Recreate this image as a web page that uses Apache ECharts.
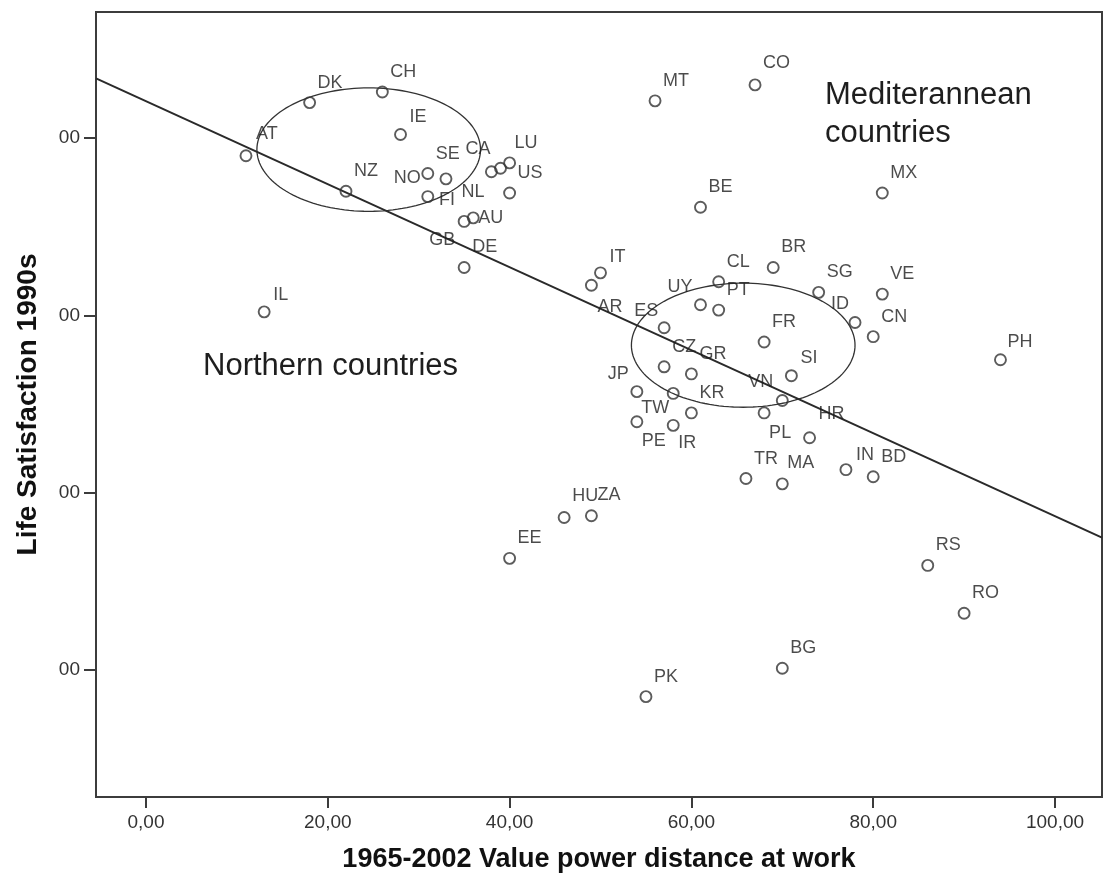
<!DOCTYPE html>
<html>
<head>
<meta charset="utf-8">
<script src="https://cdn.jsdelivr.net/npm/echarts@6.0.0/dist/echarts.min.js"></script>
<style>
html,body{margin:0;padding:0;background:#fff;}
#chart{width:1105px;height:888px;}
</style>
</head>
<body>
<div id="chart"></div>
<script>
// ---------- DATA ----------
const countries = ['AT','DK','CH','IE','NZ','IL','SE','NO','FI','NL','CA','LU','US','AU','GB','DE',
  'MT','CO','BE','MX','BR','CL','IT','AR','UY','PT','SG','VE','ID','CN','ES','FR','CZ','GR','SI',
  'JP','TW','VN','KR','PL','PE','IR','HR','IN','BD','TR','MA','PH','HU','ZA','EE','RS','RO','BG','PK'];
const powerDistance = [11,18,26,28,22,13,31,31,33,38,39,40,40,36,35,35,
  56,67,61,81,69,63,50,49,61,63,74,81,78,80,57,68,57,60,71,
  54,58,70,60,68,54,58,73,77,80,66,70,94,46,49,40,86,90,70,55];
const lifeSatisfaction = [7.90,8.20,8.26,8.02,7.70,7.02,7.80,7.67,7.77,7.81,7.83,7.86,7.69,7.55,7.53,7.27,
  8.21,8.30,7.61,7.69,7.27,7.19,7.24,7.17,7.06,7.03,7.13,7.12,6.96,6.88,6.93,6.85,6.71,6.67,6.66,
  6.57,6.56,6.52,6.45,6.45,6.40,6.38,6.31,6.13,6.09,6.08,6.05,6.75,5.86,5.87,5.63,5.59,5.32,5.01,4.85];
const xTickValues = [0,20,40,60,80,100];
const xTickLabels = ['0,00','20,00','40,00','60,00','80,00','100,00'];
const yTickValues = [5,6,7,8];
const yTickLabels = ['00','00','00','00'];
const fitIntercept = 8.208;
const fitSlope = -0.0234;
// ellipses: [centre x, centre y, radius x, radius y] in data units
const ellipseNorthern = [24.5, 7.935, 12.3, 0.348];
const ellipseMediterranean = [65.7, 6.832, 12.3, 0.350];
const annotationMed = 'Mediterannean\ncountries';
const annotationNorth = 'Northern countries';
const xTitle = '1965-2002 Value power distance at work';
const yTitle = 'Life Satisfaction 1990s';

// ---------- STYLE ----------
const X_MIN = -5.5, X_MAX = 105.17, Y_MIN = 4.284, Y_MAX = 8.711;
const FONT = 'Liberation Sans, Arial, sans-serif';
const INK = '#3c3c3c';
const defaultLabelOffset = [8, -20];
const labelOffsets = {
  AT:[10,-22], IE:[9,-17], IL:[9,-17], IT:[9,-16], HR:[9,-24], IN:[10,-15], CO:[8,-22],
  MA:[5,-21], ZA:[6,-21], HU:[8,-22], AR:[6,22], NO:[-34,-19], FI:[-7,21], NL:[-30,20],
  CA:[-35,-19], AU:[5,0], GB:[-35,19], UY:[-33,-18], ID:[-24,-18], ES:[-30,-17], JP:[-29,-18],
  TW:[-32,15], VN:[-34,-18], PL:[5,20], PE:[5,19], IR:[5,18], SI:[9,-18], PH:[7,-18], LU:[5,-20]
};

const points = countries.map((c, i) => ({
  name: c,
  value: [powerDistance[i], lifeSatisfaction[i]],
  label: { offset: labelOffsets[c] || defaultLabelOffset }
}));
const fitLine = [X_MIN, X_MAX].map(x => [x, fitIntercept + fitSlope * x]);

const chart = echarts.init(document.getElementById('chart'), null, {renderer: 'canvas'});
chart.setOption({
  animation: false,
  backgroundColor: '#fff',
  grid: {
    left: 96, right: 3, top: 12, bottom: 91,
    show: true, borderColor: INK, borderWidth: 2,
    containLabel: false, outerBoundsMode: 'none'
  },
  xAxis: {
    type: 'value', min: X_MIN, max: X_MAX,
    name: xTitle, nameLocation: 'middle', nameGap: 49,
    nameTextStyle: {fontSize: 27, fontWeight: 'bold', color: '#111', fontFamily: FONT},
    axisLine: {show: true, onZero: false, lineStyle: {color: INK, width: 2}},
    axisTick: {show: true, customValues: xTickValues, length: 11, lineStyle: {color: INK, width: 2}},
    axisLabel: {
      customValues: xTickValues, margin: 16, fontSize: 19, color: '#333', fontFamily: FONT,
      formatter: v => { const k = xTickValues.indexOf(v); return k >= 0 ? xTickLabels[k] : ''; }
    },
    splitLine: {show: false}
  },
  yAxis: {
    type: 'value', min: Y_MIN, max: Y_MAX,
    name: yTitle, nameLocation: 'middle', nameGap: 54,
    nameTextStyle: {fontSize: 28, fontWeight: 'bold', color: '#111', fontFamily: FONT},
    axisLine: {show: true, onZero: false, lineStyle: {color: INK, width: 2}},
    axisTick: {show: true, customValues: yTickValues, length: 12, lineStyle: {color: INK, width: 2}},
    axisLabel: {
      customValues: yTickValues, margin: 16, fontSize: 19, color: '#333', fontFamily: FONT,
      formatter: v => { const k = yTickValues.indexOf(v); return k >= 0 ? yTickLabels[k] : ''; }
    },
    splitLine: {show: false}
  },
  graphic: [
    {type: 'text', left: 825, top: 76, silent: true,
     style: {text: annotationMed, font: '31px ' + FONT, lineHeight: 38, fill: '#1e1e1e'}},
    {type: 'text', left: 203, top: 347, silent: true,
     style: {text: annotationNorth, font: '31px ' + FONT, lineHeight: 38, fill: '#1e1e1e'}}
  ],
  series: [
    {
      type: 'custom', coordinateSystem: 'cartesian2d', silent: true, z: 1,
      data: [ellipseNorthern, ellipseMediterranean],
      encode: {x: 0, y: 1},
      renderItem: (params, api) => {
        const cx = api.value(0), cy = api.value(1), rx = api.value(2), ry = api.value(3);
        const pts = [];
        for (let i = 0; i <= 144; i++) {
          const t = i / 144 * 2 * Math.PI;
          pts.push(api.coord([cx + rx * Math.cos(t), cy + ry * Math.sin(t)]));
        }
        return {type: 'polyline', shape: {points: pts}, style: {stroke: '#333', lineWidth: 1.3, fill: null}};
      }
    },
    {
      type: 'line', data: fitLine, symbol: 'none', silent: true, z: 2,
      lineStyle: {color: '#2a2a2a', width: 2}
    },
    {
      type: 'scatter', data: points, symbol: 'circle', symbolSize: 11, z: 3,
      itemStyle: {color: 'rgba(0,0,0,0)', borderColor: '#333', borderWidth: 1.9},
      label: {
        show: true, formatter: '{b}', position: 'inside', align: 'left', verticalAlign: 'middle',
        fontSize: 18, color: '#1e1e1e', fontFamily: FONT
      },
      emphasis: {disabled: true}
    }
  ]
});
</script>
</body>
</html>
